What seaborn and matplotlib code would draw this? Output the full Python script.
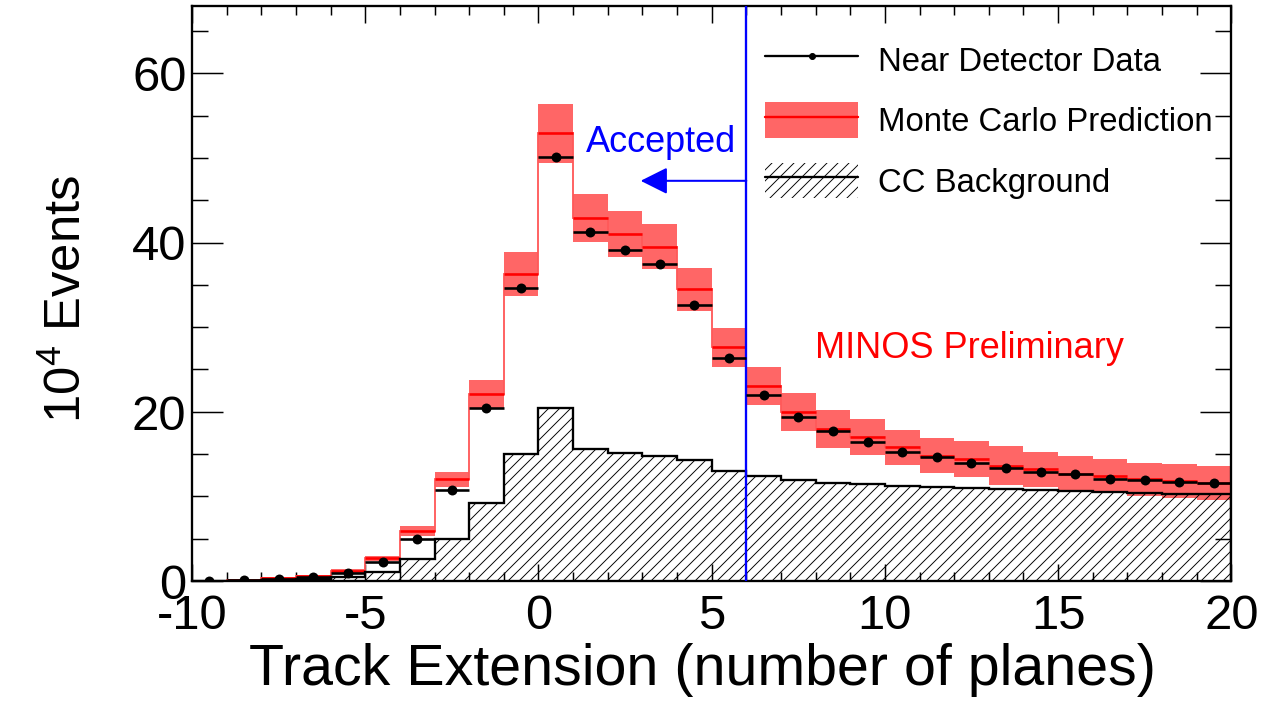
import numpy as np
import pandas as pd
import matplotlib
matplotlib.use("Agg")
import matplotlib.pyplot as plt
from matplotlib.lines import Line2D
from matplotlib.patches import Patch
from matplotlib.ticker import MultipleLocator
import seaborn as sns

# Track extension histograms, 1-plane bins from -10 to 20 (units of 10^4 events)
bin_edges = list(range(-10, 21))
data_counts = [0.05, 0.1, 0.2, 0.45, 0.9, 2.2, 4.9, 10.8, 20.5, 34.6,
               50.1, 41.2, 39.1, 37.5, 32.6, 26.4, 22.0, 19.4, 17.7, 16.4,
               15.2, 14.6, 13.9, 13.4, 12.9, 12.6, 12.1, 11.9, 11.7, 11.6]
mc_counts = [0.05, 0.15, 0.3, 0.6, 1.2, 2.7, 5.9, 12.0, 22.1, 36.3,
             52.9, 42.9, 41.0, 39.5, 34.5, 27.6, 23.0, 20.0, 18.0, 17.0,
             15.8, 14.8, 14.4, 13.6, 13.2, 12.7, 12.4, 12.0, 11.8, 11.6]
mc_syst = [0.02, 0.05, 0.08, 0.12, 0.2, 0.3, 0.55, 0.9, 1.6, 2.6,
           3.5, 2.8, 2.75, 2.65, 2.55, 2.3, 2.25, 2.25, 2.25, 2.1,
           2.1, 2.05, 2.15, 2.3, 2.1, 2.1, 2.05, 2.0, 2.0, 2.0]
cc_background = [0.02, 0.05, 0.1, 0.2, 0.45, 1.1, 2.6, 4.9, 9.2, 15.0,
                 20.4, 15.6, 15.1, 14.8, 14.3, 13.0, 12.4, 11.9, 11.6, 11.45,
                 11.25, 11.1, 11.0, 10.9, 10.7, 10.6, 10.5, 10.4, 10.3, 10.3]
cut_value = 6
x_ticks = [-10, -5, 0, 5, 10, 15, 20]
y_ticks = [0, 20, 40, 60]

edges = np.array(bin_edges, dtype=float)
centers = 0.5 * (edges[:-1] + edges[1:])
widths = np.diff(edges)
data = np.array(data_counts)
mc = np.array(mc_counts)
err = np.array(mc_syst)
bkg = np.array(cc_background)
df = pd.DataFrame({"ext": centers, "events": data})

sns.set_theme(style="ticks")
DPI = 200 / 3
plt.rcParams.update({
    "font.family": ["Liberation Sans", "DejaVu Sans"],
    "mathtext.fontset": "custom",
    "mathtext.rm": "Liberation Sans",
    "mathtext.it": "Liberation Sans:italic",
    "axes.unicode_minus": False,
    "text.color": "black",
    "axes.labelcolor": "black",
    "xtick.color": "black",
    "ytick.color": "black",
    "hatch.color": "black",
    "hatch.linewidth": 1.0,
})

fig = plt.figure(figsize=(1282.3 / DPI, 701.3 / DPI), dpi=DPI)
fig.patch.set_facecolor("white")
ax = fig.add_axes([192 / 1282, 120 / 701, 1039 / 1282, 575 / 701])
ax.set_facecolor("white")

band_color = "#ff6666"
# Monte Carlo systematic band
ax.bar(centers, 2 * err, bottom=mc - err, width=widths, color=band_color,
       linewidth=0, zorder=1)
# Monte Carlo central value
ax.stairs(mc, edges, color="#ff5a5a", linewidth=2.0, baseline=None, zorder=2)
ax.hlines(mc, edges[:-1], edges[1:], color="red", linewidth=2.8, zorder=2.1)

# CC background, hatched
ax.stairs(bkg, edges, fill=True, hatch="//", facecolor="none",
          edgecolor="black", linewidth=0, zorder=3)
ax.stairs(bkg, edges, color="black", linewidth=2.5, zorder=3.1)

# Cut position and accepted region
ax.axvline(cut_value, color="#0000ff", linewidth=2.5, zorder=4)
ax.annotate("", xy=(2.95, 47.3), xytext=(cut_value, 47.3),
            arrowprops=dict(arrowstyle="-|>,head_length=0.4,head_width=0.2",
                            color="#0000ff", lw=2.2, mutation_scale=62,
                            shrinkA=0, shrinkB=0),
            zorder=4)
ax.text(3.53, 50.7, "Accepted", color="#0000ff", fontsize=39,
        ha="center", va="baseline", zorder=5)
ax.text(12.44, 26.4, "MINOS Preliminary", color="red", fontsize=39,
        ha="center", va="baseline", zorder=5)

# Near Detector data
ax.errorbar(centers, data, xerr=widths / 2, fmt="none", ecolor="black",
            elinewidth=2.8, capsize=0, zorder=6)
sns.scatterplot(data=df, x="ext", y="events", color="black", s=115,
                edgecolor="black", linewidth=0, zorder=7, ax=ax, legend=False)

ax.set_xlim(-10, 20)
ax.set_ylim(0, 68)
ax.set_xticks(x_ticks)
ax.set_yticks(y_ticks)
ax.xaxis.set_minor_locator(MultipleLocator(1))
ax.yaxis.set_minor_locator(MultipleLocator(5))
ax.tick_params(axis="both", which="both", direction="in",
               top=True, right=True, color="black", width=1.6)
ax.tick_params(axis="x", which="major", length=18.6, labelsize=53, pad=14)
ax.tick_params(axis="x", which="minor", length=9.3)
ax.tick_params(axis="y", which="major", length=33.5, labelsize=53, pad=6)
ax.tick_params(axis="y", which="minor", length=17)
for spine in ax.spines.values():
    spine.set_visible(True)
    spine.set_color("black")
    spine.set_linewidth(2.5)

ax.set_xlabel("Track Extension (number of planes)", fontsize=62)
ax.xaxis.set_label_coords(0.4909, -0.108)
ax.set_ylabel(r"$10^{4}$ Events", fontsize=55)
ax.yaxis.set_label_coords(-0.097, 0.49)

handles = [
    Line2D([], [], color="black", lw=2.5, marker="o", markersize=6.5),
    (Patch(facecolor=band_color, linewidth=0),
     Line2D([], [], color="red", lw=2.6)),
    (Patch(facecolor="none", edgecolor="black", hatch="//", linewidth=0),
     Line2D([], [], color="black", lw=2.5)),
]
labels = ["Near Detector Data", "Monte Carlo Prediction", "CC Background"]
ax.legend(handles, labels, loc="upper left", bbox_to_anchor=(0.5515, 0.9374),
          frameon=False, fontsize=35.5, handlelength=2.82, handleheight=1.27,
          labelspacing=0.76, handletextpad=0.6, borderpad=0,
          borderaxespad=0)

fig.savefig("out.png", dpi=DPI, facecolor="white")
